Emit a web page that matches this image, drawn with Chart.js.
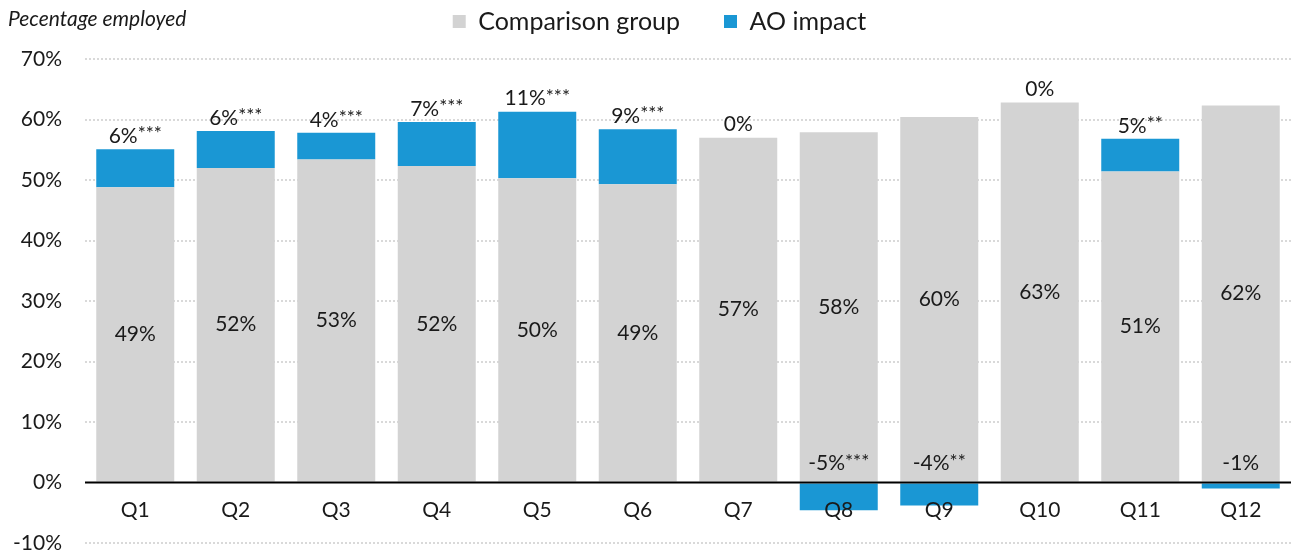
<!DOCTYPE html>
<html><head><meta charset="utf-8">
<script src="https://cdn.jsdelivr.net/npm/chart.js@4/dist/chart.umd.min.js"></script>
<style>html,body{margin:0;padding:0;background:#fff}#wrap{width:1301px;height:554px}</style>
</head><body><div id="wrap"><canvas id="c" width="1301" height="554"></canvas></div>
<script>
const categories = ['Q1','Q2','Q3','Q4','Q5','Q6','Q7','Q8','Q9','Q10','Q11','Q12'];
const comparisonGroup = [48.8, 52.0, 53.4, 52.3, 50.3, 49.3, 57.0, 57.9, 60.4, 62.8, 51.4, 62.3];
const aoImpact = [6.3, 6.1, 4.4, 7.3, 11.0, 9.1, 0, -4.6, -3.8, 0, 5.4, -1.0];
const significance = ['***','***','***','***','***','***','','***','**','','**',''];
const yMin = -10, yMax = 70, yStep = 10;
const seriesNames = ['Comparison group', 'AO impact'];
const axisTitle = 'Pecentage employed';

const FONT = 'Lato, "Noto Sans", sans-serif';
const TEXT = '#1a1a1a';
const GRAY = '#d3d3d3';
const BLUE = '#1a97d4';

const legendFitPatch = {
  id: 'legendFitPatch',
  beforeLayout(chart) {
    const lg = chart.legend;
    if (lg && !lg.__patched) {
      const orig = lg.fit;
      lg.fit = function () { orig.call(this); this.height = 94; };
      lg.__patched = true;
    }
  },
  afterLayout(chart) {
    if (chart.legend) chart.legend.left += 28;
  }
};

const titlePlugin = {
  id: 'cornerTitle',
  afterDraw(chart) {
    const ctx = chart.ctx;
    ctx.save();
    ctx.font = 'italic 21px Lato, "Open Sans", sans-serif';
    ctx.fillStyle = TEXT;
    ctx.textAlign = 'left';
    ctx.textBaseline = 'middle';
    ctx.fillText(axisTitle, 8, 19);
    ctx.restore();
  }
};

function drawLabel(ctx, main, sup, cx, cy) {
  ctx.font = '21px ' + FONT;
  const w1 = ctx.measureText(main).width;
  ctx.font = '19px ' + FONT;
  const w2 = sup ? ctx.measureText(sup).width : 0;
  const x0 = cx - (w1 + w2) / 2;
  ctx.textAlign = 'left';
  ctx.textBaseline = 'middle';
  ctx.fillStyle = TEXT;
  ctx.font = '21px ' + FONT;
  ctx.fillText(main, x0, cy);
  if (sup) {
    ctx.font = '19px ' + FONT;
    ctx.fillText(sup, x0 + w1, cy - 2);
  }
}

const labelPlugin = {
  id: 'barLabels',
  afterDatasetsDraw(chart) {
    const ctx = chart.ctx;
    const ys = chart.scales.y;
    const zeroY = ys.getPixelForValue(0);
    const area = chart.chartArea;
    ctx.save();
    ctx.strokeStyle = '#000';
    ctx.lineWidth = 2;
    ctx.beginPath();
    ctx.moveTo(area.left, zeroY);
    ctx.lineTo(area.right, zeroY);
    ctx.stroke();
    const m0 = chart.getDatasetMeta(0), m1 = chart.getDatasetMeta(1);
    m0.data.forEach((bar, i) => {
      drawLabel(ctx, Math.round(comparisonGroup[i]) + '%', '', bar.x, (bar.y + bar.base) / 2);
    });
    m1.data.forEach((bar, i) => {
      const v = aoImpact[i];
      let ty;
      if (v >= 0) {
        ty = Math.min(bar.y, m0.data[i].y) - 13;
      } else {
        ty = zeroY - 19;
      }
      drawLabel(ctx, Math.round(v) + '%', significance[i], bar.x, ty);
    });
    ctx.restore();
  }
};

new Chart(document.getElementById('c'), {
  type: 'bar',
  data: {
    labels: categories,
    datasets: [
      { label: seriesNames[0], data: comparisonGroup, backgroundColor: GRAY, categoryPercentage: 1, barPercentage: 0.776 },
      { label: seriesNames[1], data: aoImpact, backgroundColor: BLUE, categoryPercentage: 1, barPercentage: 0.776 }
    ]
  },
  options: {
    responsive: false,
    animation: false,
    devicePixelRatio: 1,
    layout: { padding: { left: 0, right: 10, top: -35, bottom: 11 } },
    plugins: {
      legend: {
        position: 'top',
        labels: {
          font: { family: FONT, size: 25 },
          color: TEXT,
          boxWidth: 13,
          boxHeight: 13,
          padding: 44
        }
      },
      tooltip: { enabled: false }
    },
    scales: {
      x: {
        stacked: true,
        position: { y: 0 },
        grid: { display: false, drawTicks: false },
        border: { display: false },
        ticks: { z: 1, font: { family: FONT, size: 21 }, color: TEXT, padding: 15 },
        afterFit(s) { s.height = 0; s.paddingLeft = 0; s.paddingRight = 0; }
      },
      y: {
        stacked: true,
        min: yMin, max: yMax,
        ticks: {
          stepSize: yStep,
          font: { family: FONT, size: 21 },
          color: TEXT,
          padding: 23,
          callback: v => v + '%'
        },
        grid: {
          drawTicks: false,
          lineWidth: 2,
          color: ctx => (ctx.tick && ctx.tick.value === 0) ? 'rgba(0,0,0,0)' : '#d9d9d9'
        },
        border: { display: false, dash: [2, 2] },
        afterFit(s) { s.width = 85; s.paddingTop = 0; s.paddingBottom = 0; }
      }
    }
  },
  plugins: [legendFitPatch, titlePlugin, labelPlugin]
});
</script>
</body></html>
